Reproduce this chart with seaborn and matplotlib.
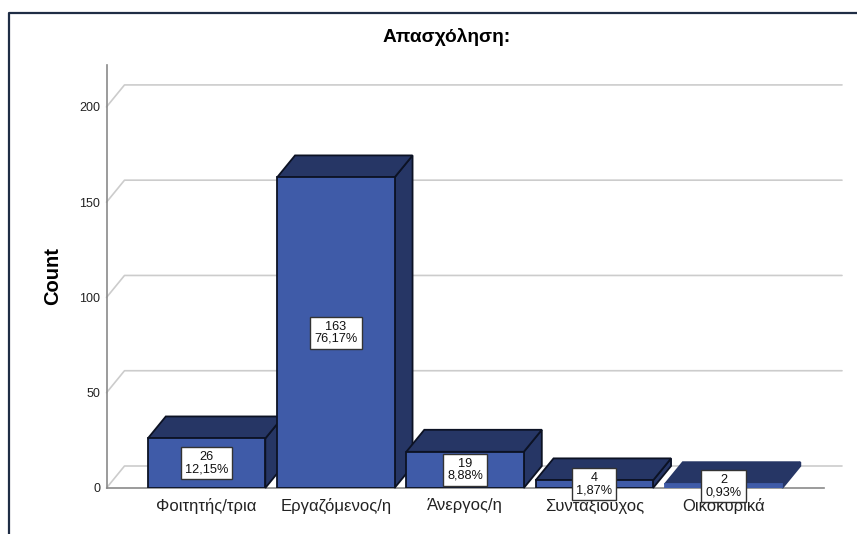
import matplotlib
matplotlib.use("Agg")
import matplotlib.pyplot as plt
from matplotlib.lines import Line2D
import seaborn as sns

categories = ["Φοιτητής/τρια", "Εργαζόμενος/η", "Άνεργος/η", "Συνταξιούχος", "Οικοκυρικά"]
counts = [26, 163, 19, 4, 2]
percents = ["12,15%", "76,17%", "8,88%", "1,87%", "0,93%"]
y_ticks = [0, 50, 100, 150, 200]

FRONT = "#3f5ba8"
SIDE = "#263665"
EDGE = "#0c1224"
GRID = "#cccccc"
AXIS = "#8a8a8a"
FRAME = "#1f2d45"

W, H = 857, 534
sns.set_theme(style="white")
plt.rcParams["font.family"] = ["Liberation Sans", "DejaVu Sans"]

fig = plt.figure(figsize=(W / 100, H / 100), dpi=100, facecolor="white")
left, right, top, bottom = 106.5, 824, 65, 488
ax = fig.add_axes([left / W, 1 - bottom / H, (right - left) / W, (bottom - top) / H])

bar_width = 0.909
sns.barplot(x=categories, y=counts, color=FRONT, saturation=1, width=bar_width,
            edgecolor=EDGE, linewidth=1.3, ax=ax)

ax.set_xlim(-0.774, 4.777)
ax.set_ylim(0, 222)

# Oblique depth of the pseudo-3D box, in data units
depth_x = 18 / 129.25
depth_y = 22 / 1.905

# Receding gridlines on the floor and back wall
for v in y_ticks:
    xs = [ax.get_xlim()[0], ax.get_xlim()[0] + depth_x, ax.get_xlim()[1] + depth_x]
    ys = [v, v + depth_y, v + depth_y]
    ax.plot(xs, ys, color=GRID, lw=1.2, zorder=1, clip_on=False)

# Side and top faces of each bar, with the front face stacked on top
for i, (patch, v) in enumerate(zip(ax.patches, counts)):
    x0, x1 = patch.get_x(), patch.get_x() + patch.get_width()
    outline = EDGE if v > 2 else SIDE
    ax.fill([x1, x1 + depth_x, x1 + depth_x, x1], [0, depth_y, v + depth_y, v],
            facecolor=SIDE, edgecolor=outline, lw=1.3, zorder=3 + i * 2, clip_on=False)
    ax.fill([x0, x1, x1 + depth_x, x0 + depth_x], [v, v, v + depth_y, v + depth_y],
            facecolor=SIDE, edgecolor=outline, lw=1.3, zorder=3 + i * 2, clip_on=False)
    patch.set_zorder(4 + i * 2)
    if v <= 2:
        patch.set_edgecolor(FRONT)
    ax.text(i, v / 2, f"{v}\n{percents[i]}", ha="center", va="center", fontsize=9.2,
            color="#111111", linespacing=1.0, zorder=20,
            bbox=dict(boxstyle="square,pad=0.32", facecolor="white", edgecolor="#333333", lw=1))

ax.set_xticks(range(len(categories)))
ax.set_xticklabels(categories, fontsize=12, color="#222222")
ax.set_yticks(y_ticks)
ax.set_yticklabels([str(t) for t in y_ticks], fontsize=9, color="#222222")
ax.tick_params(axis="y", length=0, pad=4.5)
ax.tick_params(axis="x", length=0, pad=7)

for side in ("top", "right"):
    ax.spines[side].set_visible(False)
for side in ("left", "bottom"):
    ax.spines[side].set_color(AXIS)
    ax.spines[side].set_linewidth(1.2)

ax.set_ylabel("Count", fontsize=14.5, fontweight="bold", color="black")
ax.yaxis.set_label_coords((62 - left) / (right - left), 0.50)

fig.text(447 / W, 1 - 37 / H, "Απασχόληση:", ha="center", va="center",
         fontsize=13.8, fontweight="bold", color="black")

# Dark frame along the top and left edges of the figure area
fig.add_artist(Line2D([9 / W, 9 / W, 1], [0, 1 - 13 / H, 1 - 13 / H], color=FRAME, lw=1.6))

fig.savefig("out.png", dpi=100)
